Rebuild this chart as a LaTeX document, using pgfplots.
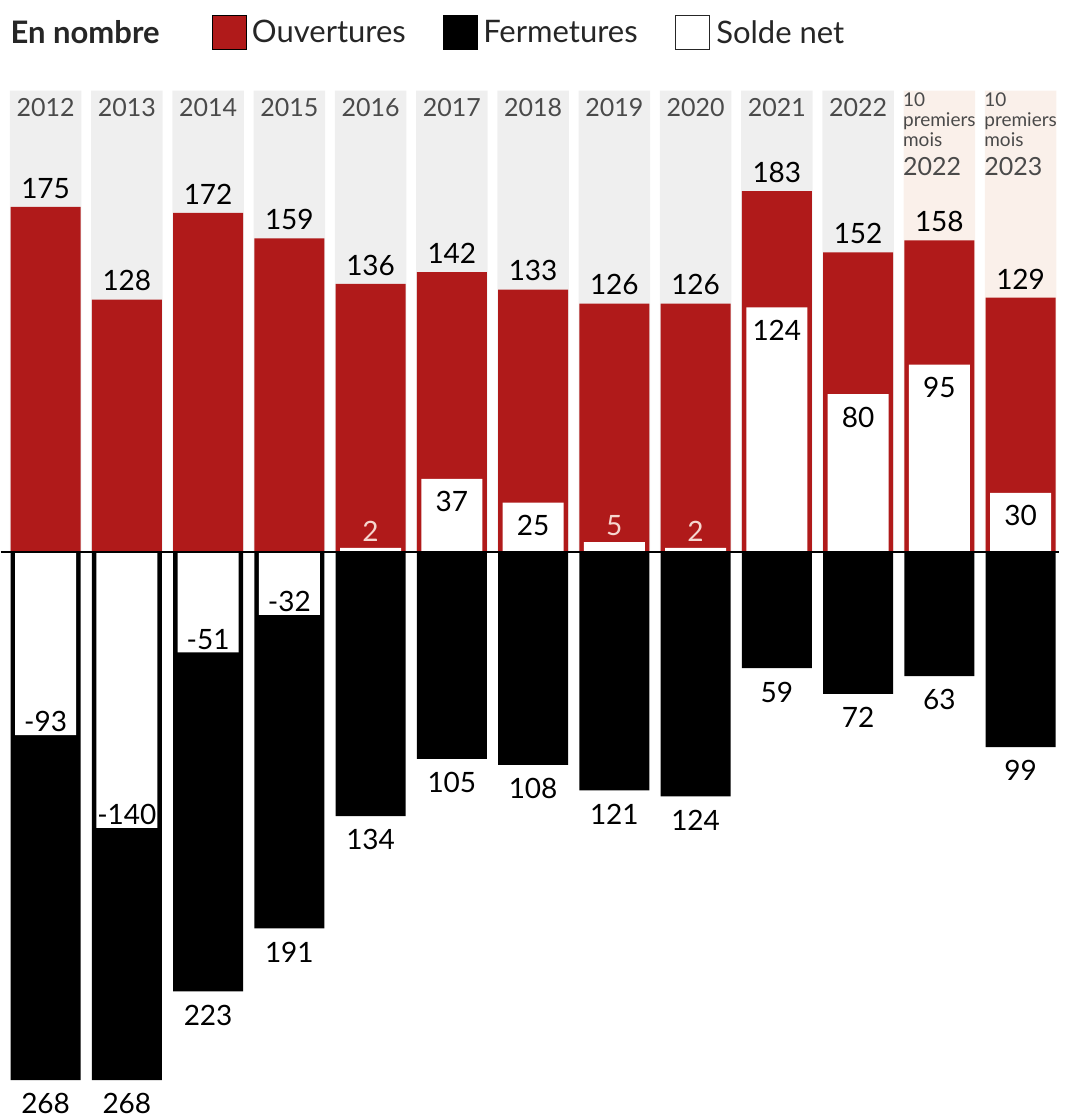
\documentclass[border=0pt]{standalone}
\usepackage{pgfplots}
\pgfplotsset{compat=1.18}
\usepackage{pgfplotstable}
\usepackage{fontspec}
\setmainfont{Lato}
\definecolor{ouv}{HTML}{B01A1A}
\definecolor{band}{HTML}{EFEFEF}
\definecolor{bandp}{HTML}{FAF0EA}
\definecolor{yr}{HTML}{4A4A4A}
\definecolor{pinklab}{HTML}{F6D6CF}
\newcommand{\numfont}{\fontsize{28}{32}\selectfont}
\newcommand{\premlab}[1]{10\\premiers\\mois\\[9pt]{\fontsize{25}{28}\selectfont #1}}

\pgfplotstableread{
x open close fclose net
0 175 -268 268 -93
1 128 -268 268 -140
2 172 -223 223 -51
3 159 -191 191 -32
4 136 -134 134 2
5 142 -105 105 37
6 133 -108 108 25
7 126 -121 121 5
8 126 -124 124 2
9 183 -59 59 124
10 152 -72 72 80
11 158 -63 63 95
12 129 -99 99 30
}\data

\begin{document}
\begin{tikzpicture}
\begin{axis}[
  width=1082pt, height=1119pt, scale only axis,
  xmin=-0.554, xmax=12.763, ymin=-287.7, ymax=280,
  hide axis, clip=false,
  /pgf/number format/assume math mode=true,
  legend columns=-1,
  legend cell align=left,
  legend image code/.code={\draw[#1] (0pt,-17pt) rectangle (34pt,17pt);},
  legend style={at={(rel axis cs:0.192,0.971)}, anchor=west, draw=none, fill=none,
    font=\fontsize{31}{33}\selectfont, text=black!85,
    /tikz/every odd column/.append style={column sep=4pt},
    /tikz/every even column/.append style={column sep=35pt}},
]
\path (rel axis cs:0,0) rectangle (rel axis cs:1,1);
\addlegendimage{fill=ouv, draw=none}\addlegendentry{Ouvertures}
\addlegendimage{fill=black, draw=none}\addlegendentry{Fermetures}
\addlegendimage{fill=white, draw=black!85, line width=1.6pt}\addlegendentry{Solde net}

% background bands with year labels
\addplot[ybar, bar shift=0pt, bar width=0.88, fill=band, draw=none, forget plot,
  point meta=explicit symbolic, nodes near coords,
  every node near coord/.append style={anchor=north, yshift=-4pt, text=yr, font=\fontsize{25}{28}\selectfont}]
  coordinates {(0,234) [2012] (1,234) [2013] (2,234) [2014] (3,234) [2015] (4,234) [2016]
  (5,234) [2017] (6,234) [2018] (7,234) [2019] (8,234) [2020] (9,234) [2021] (10,234) [2022]};
\addplot[ybar, bar shift=0pt, bar width=0.88, fill=bandp, draw=none, forget plot,
  point meta=explicit symbolic,
  nodes near coords={\premlab{\pgfplotspointmeta}},
  every node near coord/.append style={anchor=north, align=left, text=yr,
    font=\fontsize{19}{20}\selectfont, inner sep=2pt}]
  coordinates {(11,234) [2022] (12,234) [2023]};

% Ouvertures
\addplot[ybar, bar shift=0pt, bar width=0.86, fill=ouv, draw=none, forget plot,
  nodes near coords,
  every node near coord/.append style={anchor=south, yshift=5pt, text=black, font=\numfont}]
  table[x=x, y=open]{\data};
% Fermetures
\addplot[ybar, bar shift=0pt, bar width=0.86, fill=black, draw=none, forget plot,
  point meta=explicit, nodes near coords,
  every node near coord/.append style={anchor=north, yshift=-10pt, text=black, font=\numfont}]
  table[x=x, y=close, meta=fclose]{\data};
% Solde net
\addplot[ybar, bar shift=0pt, bar width=0.75, fill=white, draw=none, forget plot]
  table[x=x, y=net]{\data};

% zero line
\draw[line width=1.2pt, black] (axis cs:-0.554,0) -- (axis cs:12.47,0);

% net labels
\addplot[ybar, bar shift=0pt, bar width=0.75, draw=none, fill=none, forget plot,
  point meta=explicit symbolic, nodes near coords,
  every node near coord/.append style={anchor=north, yshift=-9pt, text=black, font=\numfont}]
  coordinates {(5,37) [37] (6,25) [25] (9,124) [124] (10,80) [80] (11,95) [95] (12,30) [30]};
\addplot[ybar, bar shift=0pt, bar width=0.75, draw=none, fill=none, forget plot,
  point meta=explicit symbolic, nodes near coords,
  every node near coord/.append style={anchor=south, text=black, font=\numfont, inner sep=3pt}]
  coordinates {(0,-93) [-93] (1,-140) [-140] (2,-51) [-51] (3,-32) [-32]};
\addplot[ybar, bar shift=0pt, bar width=0.75, draw=none, fill=none, forget plot,
  point meta=explicit symbolic, nodes near coords,
  every node near coord/.append style={anchor=south, yshift=3pt, text=pinklab, font=\numfont, inner sep=3pt}]
  coordinates {(4,2) [2] (7,5) [5] (8,2) [2]};

\node[anchor=west, font=\bfseries\fontsize{31}{33}\selectfont, text=black!85] at (rel axis cs:0.006,0.971) {En nombre};
\end{axis}
\end{tikzpicture}
\end{document}
